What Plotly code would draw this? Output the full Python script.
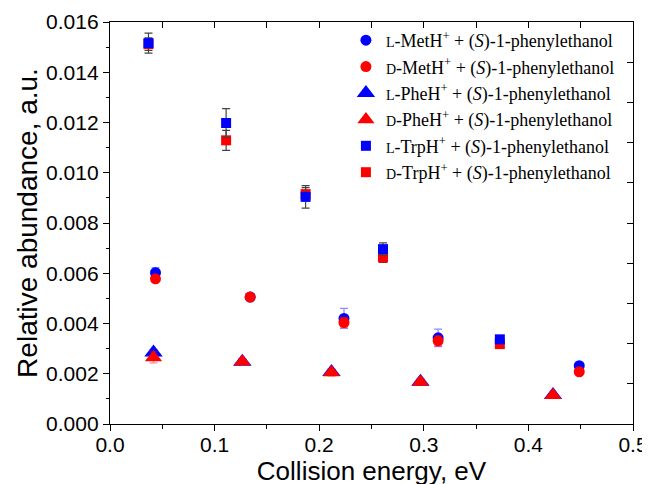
import plotly.graph_objects as go

BLUE = "#0000ff"
RED = "#ff0000"

# collision energies (eV) for each amino acid
met_x = [0.0435, 0.134, 0.2237, 0.3137, 0.4486]
phe_x = [0.0416, 0.1265, 0.2117, 0.2968, 0.4235]
trp_x = [0.0368, 0.111, 0.187, 0.261, 0.3727]

# relative abundances and errors
l_met = [0.00602, 0.00505, 0.00420, 0.00343, 0.00232]
l_met_err = [0.00020, 0.00010, 0.00040, 0.00035, 0.00010]
d_met = [0.00578, 0.00505, 0.00404, 0.00331, 0.00208]
d_met_err = [0.00010, 0.00010, 0.00020, 0.00020, 0.00010]

l_phe = [0.00285, 0.00248, 0.00207, 0.00168, 0.00115]
l_phe_err = [0.00010, 0.00010, 0.00010, 0.00010, 0.00010]
d_phe = [0.00265, 0.00248, 0.00205, 0.00167, 0.00114]
d_phe_err = [0.00022, 0.00010, 0.00015, 0.00012, 0.00010]

l_trp = [0.01516, 0.01198, 0.00904, 0.00696, 0.00337]
l_trp_err = [0.00040, 0.00057, 0.00045, 0.00025, 0.00010]
d_trp = [0.01512, 0.01129, 0.00915, 0.00663, 0.00318]
d_trp_err = [0.00025, 0.00040, 0.00026, 0.00020, 0.00010]

SC = "<span style='font-size:14px'>{}</span>"
TAIL = " + (<i>S</i>)-1-phenylethanol"


def label(chir, aa):
    return SC.format(chir) + "-" + aa + "H<sup>+</sup>" + TAIL


def series(x, y, err, name, color, symbol, size, err_color, rank):
    return go.Scatter(
        x=x, y=y, name=name, mode="markers", legendrank=rank,
        marker=dict(color=color, symbol=symbol, size=size, line=dict(width=0)),
        error_y=dict(type="data", array=err, color=err_color,
                     thickness=1.2, width=4),
    )


fig = go.Figure()
fig.add_trace(series(met_x, l_met, l_met_err, label("L", "Met"), BLUE, "circle", 11,
                     "rgba(0,0,255,0.45)", 1))
fig.add_trace(series(met_x, d_met, d_met_err, label("D", "Met"), RED, "circle", 11,
                     "rgba(255,0,0,0.45)", 2))
fig.add_trace(series(phe_x, l_phe, l_phe_err, label("L", "Phe"), BLUE, "triangle-up", 16,
                     "rgba(0,0,255,0.45)", 3))
fig.add_trace(series(phe_x, d_phe, d_phe_err, label("D", "Phe"), RED, "triangle-up", 15,
                     "rgba(255,0,0,0.45)", 4))
# D-Trp drawn first so the L-Trp squares sit on top
fig.add_trace(series(trp_x, d_trp, d_trp_err, label("D", "Trp"), RED, "square", 10,
                     "#444444", 6))
fig.add_trace(series(trp_x, l_trp, l_trp_err, label("L", "Trp"), BLUE, "square", 10,
                     "#444444", 5))
# empty trace so the mirrored top/right axes get drawn
fig.add_trace(go.Scatter(x=[], y=[], xaxis="x2", yaxis="y2",
                         showlegend=False, hoverinfo="skip"))

tick_font = dict(family="Liberation Sans, Arial, sans-serif", size=21, color="black")
xtitle_font = dict(family="Liberation Sans, Arial, sans-serif", size=26, color="black")
ytitle_font = dict(family="Liberation Sans, Arial, sans-serif", size=28, color="black")

# the page body adds an 8px offset, margins below account for it
fig.update_layout(
    width=650, height=484,
    template="plotly_white",
    plot_bgcolor="white", paper_bgcolor="white",
    margin=dict(l=102, r=25, t=14, b=68, autoexpand=False),
    showlegend=True,
    legend=dict(x=0.975, y=1.0, xanchor="right", yanchor="top",
                bgcolor="rgba(0,0,0,0)",
                font=dict(family="Liberation Serif, Times New Roman, serif",
                          size=18, color="black")),
    xaxis=dict(range=[0, 0.5], dtick=0.1, tickformat=".1f", automargin=False,
               ticks="outside", ticklen=6, tickwidth=1.3, tickcolor="black",
               ticklabelstandoff=-4,
               minor=dict(dtick=0.05, ticks="outside", ticklen=4, tickcolor="black"),
               showline=True, linecolor="black", linewidth=1.3,
               showgrid=False, zeroline=False, tickfont=tick_font,
               title=dict(text="Collision energy, eV", font=xtitle_font, standoff=0)),
    yaxis=dict(range=[0, 0.016], dtick=0.002, tickformat=".3f", automargin=False,
               ticks="outside", ticklen=6, tickwidth=1.3, tickcolor="black",
               minor=dict(dtick=0.001, ticks="outside", ticklen=3, tickcolor="black"),
               showline=True, linecolor="black", linewidth=1.3,
               showgrid=False, zeroline=False, tickfont=tick_font,
               title=dict(text="Relative abundance, a.u.", font=ytitle_font, standoff=0)),
    xaxis2=dict(overlaying="x", side="top", anchor="y", range=[0, 0.5], dtick=0.05,
                ticks="inside", ticklen=6, tickwidth=1.3, tickcolor="black",
                showticklabels=False, showline=True, linecolor="black", linewidth=1.3,
                showgrid=False, zeroline=False, automargin=False),
    yaxis2=dict(overlaying="y", side="right", anchor="x", range=[0, 10], dtick=1,
                ticks="inside", ticklen=6, tickwidth=1.3, tickcolor="black",
                showticklabels=False, showline=True, linecolor="black", linewidth=1.3,
                showgrid=False, zeroline=False, automargin=False),
)

fig.write_html("out.html")
